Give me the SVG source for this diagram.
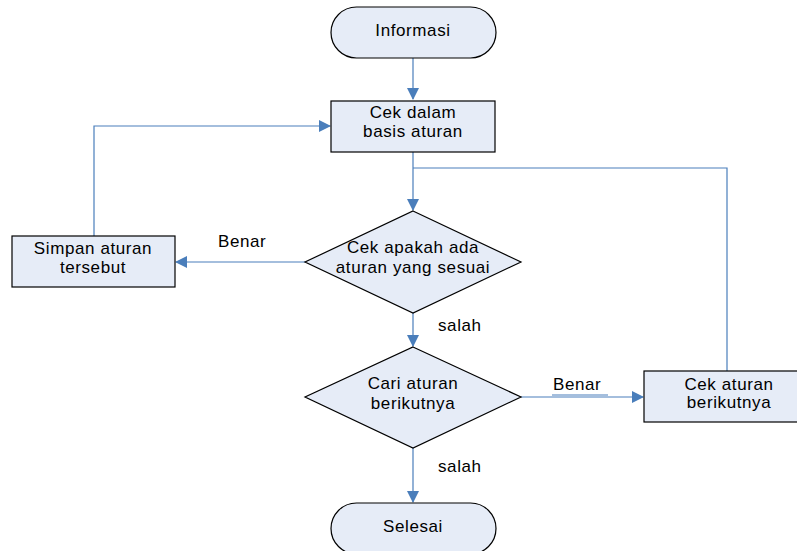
<svg xmlns="http://www.w3.org/2000/svg" width="797" height="551" viewBox="0 0 797 551">
<style>
.n{fill:#E6ECF7;stroke:#000;stroke-width:1.2}
.t{font-family:"Liberation Sans",Arial,sans-serif;font-size:17px;letter-spacing:0.6px;fill:#000;text-anchor:middle}
.l{font-family:"Liberation Sans",Arial,sans-serif;font-size:17px;letter-spacing:0.6px;fill:#000}
.c{fill:none;stroke:#4A7EBB;stroke-width:1.2}
</style>
<defs>
<marker id="a" markerWidth="12" markerHeight="12" refX="11" refY="6" orient="auto" markerUnits="userSpaceOnUse">
<path d="M0,0 L12,6 L0,12 Z" fill="#4A7EBB"/>
</marker>
</defs>
<rect width="797" height="551" fill="#fff"/>
<g id="connectors">
<path class="c" d="M413,58 V99" marker-end="url(#a)"/>
<path class="c" d="M413,152 V210" marker-end="url(#a)"/>
<path class="c" d="M413,168 H727 V371"/>
<path class="c" d="M305,262 H176" marker-end="url(#a)"/>
<path class="c" d="M94,236 V126 H330" marker-end="url(#a)"/>
<path class="c" d="M413,313 V346" marker-end="url(#a)"/>
<path class="c" d="M521,397 H643" marker-end="url(#a)"/>
<path class="c" d="M552,395 H608"/>
<path class="c" d="M413,448 V502" marker-end="url(#a)"/>
<text class="l" x="218" y="247">Benar</text>
<text class="l" x="438" y="331">salah</text>
<text class="l" x="553" y="390">Benar</text>
<text class="l" x="438" y="472">salah</text>
</g>
<g id="informasi">
<rect class="n" x="331" y="7" width="165" height="51" rx="25.5"/>
<text class="t" x="413" y="36">Informasi</text>
</g>
<g id="cek-dalam">
<rect class="n" x="331" y="101" width="164" height="51"/>
<text class="t" x="413" y="118">Cek dalam</text>
<text class="t" x="413" y="137">basis aturan</text>
</g>
<g id="cek-apakah">
<path class="n" d="M413,211 L521,262 L413,313 L305,262 Z"/>
<text class="t" x="413" y="253">Cek apakah ada</text>
<text class="t" x="413" y="273">aturan yang sesuai</text>
</g>
<g id="simpan">
<rect class="n" x="12" y="236" width="163" height="51"/>
<text class="t" x="93" y="254">Simpan aturan</text>
<text class="t" x="93" y="273">tersebut</text>
</g>
<g id="cari">
<path class="n" d="M413,347 L521,397 L413,448 L305,397 Z"/>
<text class="t" x="413" y="389">Cari aturan</text>
<text class="t" x="413" y="409">berikutnya</text>
</g>
<g id="cek-aturan">
<rect class="n" x="644" y="371" width="166" height="51"/>
<text class="t" x="729" y="390">Cek aturan</text>
<text class="t" x="729" y="408">berikutnya</text>
</g>
<g id="selesai">
<rect class="n" x="331" y="503" width="165" height="51" rx="25.5"/>
<text class="t" x="413" y="532">Selesai</text>
</g>
</svg>
